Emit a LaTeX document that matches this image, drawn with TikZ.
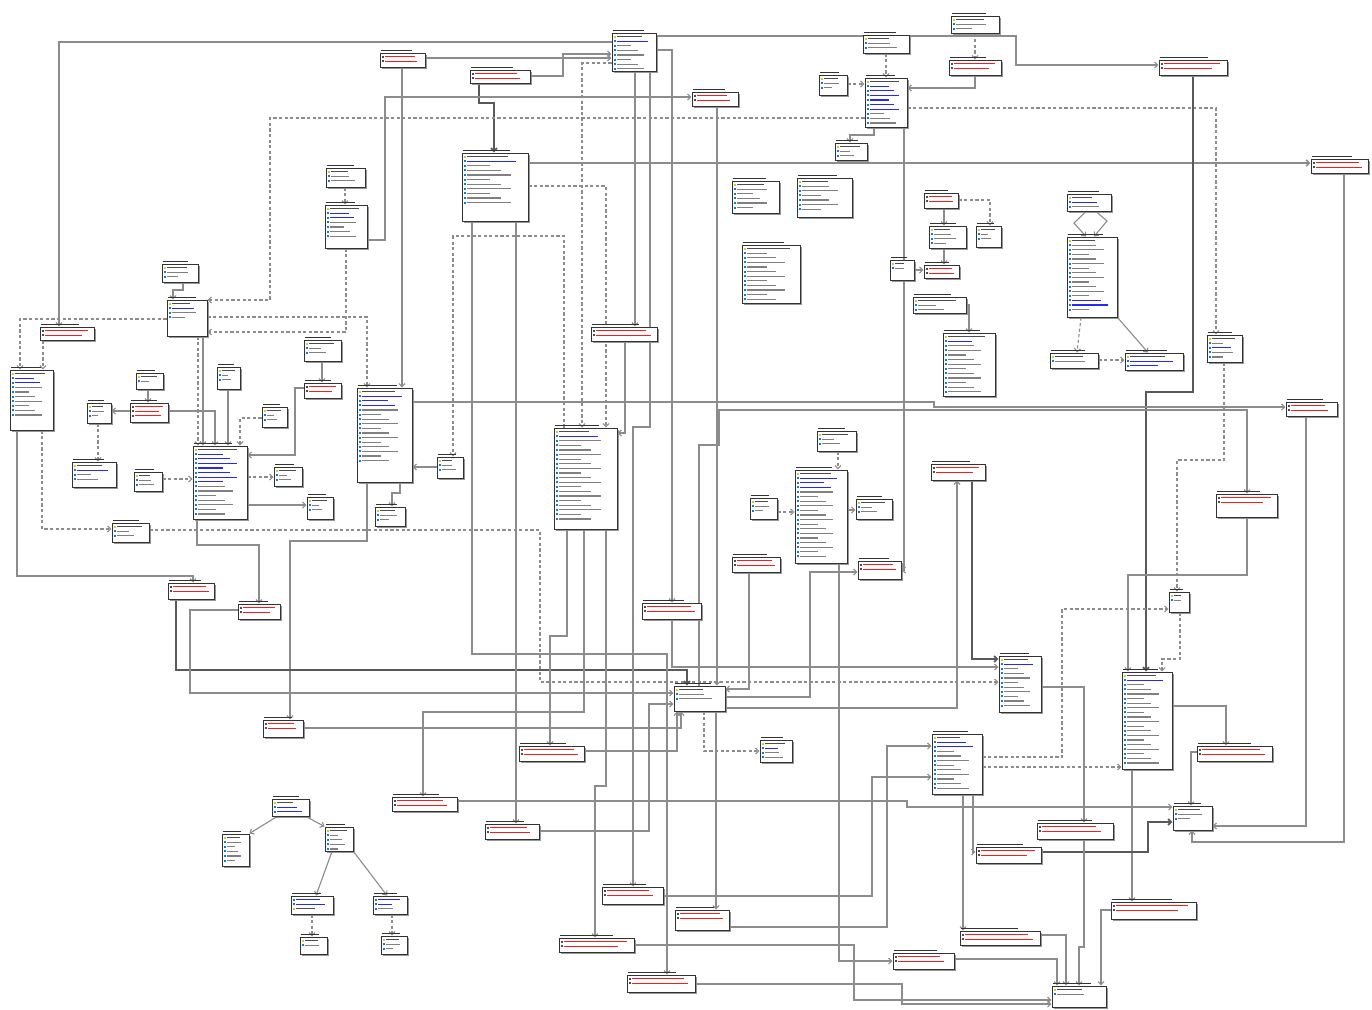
\documentclass[tikz,border=0pt]{standalone}
\usetikzlibrary{arrows.meta,fit,shadows}
\pgfdeclarelayer{bg}
\pgfdeclarelayer{lines}
\pgfsetlayers{bg,lines,main}

\colorlet{tck}{black!70}
\colorlet{tcn}{black!50}
\colorlet{tcb}{blue!85}
\colorlet{tcr}{red!90}
\colorlet{ick}{yellow!80!black}
\colorlet{icn}{cyan!60!blue}
\colorlet{icb}{cyan!60!blue}
\colorlet{icr}{black!70}
\expandafter\def\csname erlbk\endcsname{0.55}
\expandafter\def\csname erlsk\endcsname{0.15}
\expandafter\def\csname erlbn\endcsname{0.4}
\expandafter\def\csname erlsn\endcsname{0.18}
\expandafter\def\csname erlbb\endcsname{0.55}
\expandafter\def\csname erlsb\endcsname{0.15}
\expandafter\def\csname erlbr\endcsname{0.8}
\expandafter\def\csname erlsr\endcsname{0.07}

\tikzset{
  tblbox/.style={draw=black!80, line width=0.5pt, fill=white, inner sep=0pt,
    drop shadow={shadow xshift=1.1pt, shadow yshift=-1.1pt, fill=black!45, opacity=0.9}},
  tbltitle/.style={draw=black!80, line width=0.75pt},
  rel/.style={draw=black!45, line width=0.55pt, -{Straight Barb[length=1.6pt,width=3pt]}},
  relt/.style={rel, draw=black!65, line width=0.85pt},
  reln/.style={rel, dash pattern=on 1.6pt off 1.2pt},
}

% name, x1, y1, x2, y2, rows
\newcommand{\ertable}[6]{%
  \node[tblbox, fit={(#2,#3) (#4,#5)}] (#1) {};
  \draw[tbltitle] (#2+0.5,#3-2.6) -- ({#2+0.72*(#4-#2)},#3-2.6);
  \foreach \rw [count=\ri] in {#6} {
    \pgfmathsetmacro\ry{#3+4.6*\ri-1}
    \pgfmathsetmacro\rx{#2+5+(#4-#2-8)*(\csname erlb\rw\endcsname+\csname erls\rw\endcsname*mod(\ri+#2,3))}
    \fill[fill=ic\rw] (#2+1.5,\ry-1) rectangle (#2+3.5,\ry+1);
    \draw[draw=tc\rw, line width=0.6pt] (#2+5,\ry) -- (\rx,\ry);
  }%
}

\begin{document}
\begin{tikzpicture}[x=0.5pt,y=-0.5pt]
  \useasboundingbox (0,0) rectangle (1372,1009);
  \begin{pgfonlayer}{bg}
    \fill[white] (0,0) rectangle (1372,1009);
  \end{pgfonlayer}

  \ertable{t1}{612}{33}{656}{71}{k,b,n,n,n,n,n,n}
  \ertable{t2}{380}{53}{425}{67}{r,r}
  \ertable{t3}{470}{70}{530}{83}{r,r}
  \ertable{t4}{692}{92}{738}{106}{r,r}
  \ertable{t5}{863}{35}{909}{53}{k,n,n}
  \ertable{t6}{951}{16}{999}{33}{k,n,n}
  \ertable{t7}{949}{60}{1001}{75}{r,r}
  \ertable{t8}{819}{75}{847}{95}{k,n,n}
  \ertable{t9}{865}{78}{907}{127}{k,b,b,b,b,b,b,n,n,n}
  \ertable{t10}{835}{143}{867}{160}{k,n,n}
  \ertable{t11}{1159}{60}{1227}{75}{r,r}
  \ertable{t12}{1311}{159}{1368}{173}{r,r}
  \ertable{t13}{462}{153}{528}{221}{k,b,n,n,n,n,n,n,n,n,n}
  \ertable{t14}{326}{168}{365}{187}{k,n,n}
  \ertable{t15}{325}{205}{367}{248}{k,b,b,n,n,n,n}
  \ertable{t16}{732}{181}{779}{213}{k,n,n,n,n,n}
  \ertable{t17}{797}{178}{852}{217}{k,n,n,n,n,n,n}
  \ertable{t18}{742}{245}{800}{303}{k,n,n,n,n,n,n,n,n,n,n,n}
  \ertable{t19}{924}{193}{958}{208}{r,r}
  \ertable{t20}{929}{226}{966}{248}{k,n,n,n}
  \ertable{t21}{976}{226}{1001}{247}{k,n,n}
  \ertable{t22}{924}{265}{959}{278}{r,r}
  \ertable{t23}{890}{260}{914}{280}{k,n}
  \ertable{t24}{1067}{194}{1111}{211}{k,b,n}
  \ertable{t25}{1067}{237}{1117}{317}{k,n,n,n,n,n,n,n,n,n,n,n,n,b,b,n}
  \ertable{t26}{913}{297}{966}{313}{k,n,n}
  \ertable{t27}{943}{333}{995}{396}{k,b,n,n,n,n,n,n,n,n,n,n,n}
  \ertable{t28}{1050}{353}{1098}{368}{k,n}
  \ertable{t29}{1125}{353}{1183}{370}{k,b,b}
  \ertable{t30}{1207}{335}{1242}{362}{k,n,b,n,n}
  \ertable{t31}{591}{327}{657}{341}{r,r}
  \ertable{t32}{162}{264}{198}{282}{k,n,n}
  \ertable{t33}{167}{300}{207}{336}{k,b,n,n}
  \ertable{t34}{40}{327}{94}{340}{r,r}
  \ertable{t35}{10}{370}{53}{430}{k,b,b,n,n,n,n,n,n,n}
  \ertable{t36}{304}{340}{341}{361}{k,n,n}
  \ertable{t37}{304}{383}{341}{398}{r,r}
  \ertable{t38}{217}{367}{240}{389}{k,n,n}
  \ertable{t39}{136}{373}{163}{389}{k,n}
  \ertable{t40}{87}{403}{111}{423}{k,n,n}
  \ertable{t41}{130}{403}{168}{422}{r,r,r}
  \ertable{t42}{262}{407}{287}{427}{k,n,n}
  \ertable{t43}{357}{388}{412}{482}{k,b,b,b,n,n,n,n,n,n,n,n,n,n,n,n}
  \ertable{t44}{193}{446}{247}{519}{k,b,b,b,b,b,b,b,n,n,n,n,n,n,n}
  \ertable{t45}{72}{462}{116}{487}{k,b,n,n}
  \ertable{t46}{134}{472}{162}{491}{k,n,n}
  \ertable{t47}{274}{467}{302}{486}{k,n,n}
  \ertable{t48}{307}{497}{333}{519}{k,n,n}
  \ertable{t49}{112}{523}{149}{542}{k,n,n}
  \ertable{t50}{375}{507}{405}{526}{k,n,n}
  \ertable{t51}{437}{457}{463}{478}{k,n,n}
  \ertable{t52}{168}{583}{214}{599}{r,r}
  \ertable{t53}{238}{604}{280}{619}{r,r}
  \ertable{t54}{263}{720}{303}{737}{r,r}
  \ertable{t55}{554}{428}{617}{529}{k,b,n,n,n,n,n,n,n,n,n,n,n,n,n,n,n,n,n,n}
  \ertable{t56}{817}{431}{856}{451}{k,n,n}
  \ertable{t57}{795}{470}{847}{563}{k,b,b,b,n,n,n,n,n,n,n,n,n,n,n,n,n,n,n}
  \ertable{t58}{750}{498}{777}{519}{k,n,n}
  \ertable{t59}{856}{499}{892}{519}{k,n,n}
  \ertable{t60}{732}{557}{780}{572}{r,r}
  \ertable{t61}{858}{561}{901}{579}{r,r}
  \ertable{t62}{642}{603}{701}{619}{r,r}
  \ertable{t63}{674}{686}{725}{711}{k,n,n}
  \ertable{t64}{760}{740}{792}{762}{k,b,n,n}
  \ertable{t65}{519}{746}{584}{761}{r,r}
  \ertable{t66}{392}{797}{457}{811}{r,r}
  \ertable{t67}{485}{824}{539}{839}{r,r}
  \ertable{t68}{602}{887}{663}{904}{r,r}
  \ertable{t69}{675}{910}{729}{930}{r,r}
  \ertable{t70}{559}{938}{634}{952}{r,r}
  \ertable{t71}{627}{975}{695}{992}{r,r}
  \ertable{t72}{931}{464}{985}{480}{r,r}
  \ertable{t73}{1286}{402}{1337}{416}{r,r}
  \ertable{t74}{1216}{494}{1277}{517}{r,r}
  \ertable{t75}{1169}{592}{1189}{612}{k,n}
  \ertable{t76}{999}{656}{1041}{712}{k,b,n,n,n,n,n,n,n,n,n}
  \ertable{t77}{1122}{672}{1172}{769}{k,b,n,n,n,n,n,n,n,n,n,n,n,n,n,n,n,n,n,n}
  \ertable{t78}{932}{734}{982}{794}{k,b,b,n,n,n,n,n,n,n,n,n}
  \ertable{t79}{1197}{746}{1272}{761}{r,r}
  \ertable{t80}{1173}{806}{1212}{830}{k,n,n}
  \ertable{t81}{1037}{823}{1113}{839}{r,r}
  \ertable{t82}{976}{847}{1041}{863}{r,r}
  \ertable{t83}{1111}{902}{1196}{919}{r,r}
  \ertable{t84}{960}{931}{1040}{945}{r,r}
  \ertable{t85}{893}{953}{954}{969}{r,r}
  \ertable{t86}{1052}{986}{1106}{1007}{k,n}
  \ertable{t87}{272}{799}{309}{816}{k,b,b}
  \ertable{t88}{222}{834}{249}{866}{k,n,n,n,n,n}
  \ertable{t89}{325}{827}{353}{851}{k,n,n,n,n}
  \ertable{t90}{291}{896}{333}{914}{b,b,k}
  \ertable{t91}{373}{896}{407}{914}{b,b,n}
  \ertable{t92}{300}{937}{327}{954}{k,n}
  \ertable{t93}{381}{936}{407}{954}{k,n,n}

  \begin{pgfonlayer}{lines}
    \draw[rel] (t1.west |- 0,42) -| (t34.north -| 59,0);
    \draw[rel] (t2.east |- 0,58) -- (t1.west |- 0,58);
    \draw[rel] (t2.south -| 402,0) -- (t43.north -| 402,0);
    \draw[rel] (t3.east |- 0,76) -| (563,54) -- (t1.west |- 0,54);
    \draw[relt] (t3.south -| 479,0) |- (494,103) -- (t13.north -| 494,0);
    \draw[rel] (t15.east |- 0,240) -| (385,97) -- (t4.west |- 0,97);
    \draw[reln] (t9.west |- 0,118) -| (270,300) -- (t33.east |- 0,300);
    \draw[reln] (t33.east |- 0,317) -| (t43.north -| 367,0);
    \draw[reln] (t15.south -| 346,0) |- (t33.east |- 0,332);
    \draw[reln] (t14.south -| 345,0) -- (t15.north -| 345,0);
    \draw[reln] (t33.west |- 0,319) -| (t35.north -| 20,0);
    \draw[reln] (t34.south -| 43,0) -- (t35.north -| 43,0);
    \draw[rel] (t32.south -| 183,0) |- (173,290) -- (t33.north -| 173,0);
    \draw[reln] (t33.south -| 198,0) -- (t44.north -| 198,0);
    \draw[rel] (t33.south -| 203,0) -- (t44.north -| 203,0);
    \draw[rel] (t36.south -| 322,0) -- (t37.north -| 322,0);
    \draw[rel] (t37.west |- 0,388) -| (295,455) -- (t44.east |- 0,455);
    \draw[rel] (t38.south -| 228,0) -- (t44.north -| 228,0);
    \draw[reln] (t42.west |- 0,418) -| (t44.north -| 240,0);
    \draw[rel] (t39.south -| 148,0) -- (t41.north -| 148,0);
    \draw[rel] (t41.west |- 0,411) -- (t40.east |- 0,411);
    \draw[rel] (t41.east |- 0,411) -| (t44.north -| 215,0);
    \draw[reln] (t40.south -| 98,0) -- (t45.north -| 98,0);
    \draw[reln] (t46.east |- 0,479) -- (t44.west |- 0,479);
    \draw[rel] (t44.east |- 0,505) -- (t48.west |- 0,505);
    \draw[reln] (t44.east |- 0,477) -- (t47.west |- 0,477);
    \draw[rel] (t51.west |- 0,467) -- (t43.east |- 0,467);
    \draw[reln] (t55.north -| 564,0) |- (453,236) -- (t51.north -| 453,0);
    \draw[rel] (t43.south -| 400,0) |- (392,493) -- (t50.north -| 392,0);
    \draw[rel] (t43.south -| 367,0) |- (290,541) -- (t54.north -| 290,0);
    \draw[rel] (t35.south -| 17,0) |- (193,576) -- (t52.north -| 193,0);
    \draw[reln] (t35.south -| 42,0) |- (t49.west |- 0,529);
    \draw[reln] (t49.east |- 0,530) -| (540,682) -- (t76.west |- 0,682);
    \draw[rel] (t44.south -| 197,0) |- (259,545) -- (t53.north -| 259,0);
    \draw[relt] (t52.south -| 176,0) |- (687,670) -- (t63.north -| 687,0);
    \draw[rel] (t53.west |- 0,610) -| (190,693) -- (t63.west |- 0,693);
    \draw[rel] (t54.east |- 0,728) -| (t63.south -| 681,0);
    \draw[rel] (t55.south -| 584,0) |- (423,712) -- (t66.north -| 423,0);
    \draw[rel] (t55.south -| 567,0) |- (550,636) -- (t65.north -| 550,0);
    \draw[rel] (t55.south -| 606,0) |- (595,786) -- (t70.north -| 595,0);
    \draw[rel] (t13.south -| 472,0) |- (667,654) -- (t71.north -| 667,0);
    \draw[rel] (t13.south -| 516,0) -- (t67.north -| 516,0);
    \draw[rel] (t1.south -| 635,0) -- (t31.north -| 635,0);
    \draw[rel] (t1.south -| 650,0) |- (633,427) -- (t68.north -| 633,0);
    \draw[rel] (t31.south -| 625,0) |- (t55.east |- 0,433);
    \draw[reln] (t13.east |- 0,186) -| (t55.north -| 606,0);
    \draw[reln] (t1.west |- 0,63) -| (t55.north -| 582,0);
    \draw[rel, line width=0.8pt] (t13.east |- 0,163) -- (t12.west |- 0,163);
    \draw[rel] (t1.east |- 0,50) -| (t62.north -| 672,0);
    \draw[rel] (t4.south -| 717,0) -- (t63.north -| 717,0);
    \draw[rel] (t1.east |- 0,36) -| (1016,65) -- (t11.west |- 0,65);
    \draw[rel] (t7.south -| 975,0) |- (t9.east |- 0,88);
    \draw[reln] (t6.south -| 975,0) -- (t7.north -| 975,0);
    \draw[reln] (t9.east |- 0,108) -| (t30.north -| 1216,0);
    \draw[reln] (t5.south -| 886,0) -- (t9.north -| 886,0);
    \draw[reln] (t8.east |- 0,84) -- (t9.west |- 0,84);
    \draw[rel] (t9.south -| 874,0) |- (850,135) -- (t10.north -| 850,0);
    \draw[rel] (t9.south -| 904,0) |- (t61.east |- 0,570);
    \draw[relt] (t11.south -| 1193,0) |- (1146,392) -- (t77.north -| 1146,0);
    \draw[rel] (t12.south -| 1344,0) |- (1192,842) -- (t80.south -| 1192,0);
    \draw[rel] (t43.east |- 0,402) -| (934,407) -- (t73.west |- 0,407);
    \draw[rel] (t63.north -| 699,0) |- (719,445) |- (1247,410) -- (t74.north -| 1247,0);
    \draw[rel] (t73.south -| 1306,0) |- (t80.east |- 0,826);
    \draw[rel] (t74.south -| 1247,0) |- (1128,575) -- (t77.north -| 1128,0);
    \draw[reln] (t30.south -| 1224,0) |- (1177,460) -- (t75.north -| 1177,0);
    \draw[reln] (t75.south -| 1180,0) |- (1162,659) -- (t77.north -| 1162,0);
    \draw[reln] (t78.east |- 0,757) -| (1062,609) -- (t75.west |- 0,609);
    \draw[reln] (t78.east |- 0,767) -- (t77.west |- 0,767);
    \draw[relt] (t72.south -| 972,0) |- (t76.west |- 0,659);
    \draw[rel] (t63.east |- 0,708) -| (t72.south -| 957,0);
    \draw[rel] (t62.south -| 672,0) |- (t76.west |- 0,667);
    \draw[rel] (t76.east |- 0,687) -| (t81.north -| 1084,0);
    \draw[rel] (t77.east |- 0,706) -| (t79.north -| 1226,0);
    \draw[rel] (t79.west |- 0,752) -| (t80.north -| 1191,0);
    \draw[rel] (t77.south -| 1132,0) -- (t83.north -| 1132,0);
    \draw[rel] (t66.east |- 0,801) -| (907,807) -- (t80.west |- 0,807);
    \draw[relt] (t82.east |- 0,852) -| (1148,822) -- (t80.west |- 0,822);
    \draw[rel] (t78.south -| 963,0) -- (t84.north -| 963,0);
    \draw[rel] (t78.south -| 973,0) |- (t82.west |- 0,852);
    \draw[rel] (t81.south -| 1084,0) |- (1079,947) -- (t86.north -| 1079,0);
    \draw[rel] (t83.west |- 0,910) -| (t86.north -| 1101,0);
    \draw[rel] (t84.east |- 0,935) -| (t86.north -| 1066,0);
    \draw[rel] (t85.east |- 0,959) -| (t86.north -| 1057,0);
    \draw[rel] (t70.east |- 0,945) -| (854,1000) -- (t86.west |- 0,1000);
    \draw[rel] (t71.east |- 0,984) -| (902,1004) -- (t86.west |- 0,1004);
    \draw[rel] (t57.south -| 839,0) |- (t85.west |- 0,961);
    \draw[rel] (t68.east |- 0,896) -| (872,777) -- (t78.west |- 0,777);
    \draw[rel] (t69.east |- 0,927) -| (887,746) -- (t78.west |- 0,746);
    \draw[rel] (t63.east |- 0,697) -| (810,572) -- (t61.west |- 0,572);
    \draw[rel] (t60.south -| 749,0) |- (t63.east |- 0,689);
    \draw[rel] (t67.east |- 0,831) -| (649,704) -- (t63.west |- 0,704);
    \draw[rel] (t65.east |- 0,751) -| (t63.south -| 677,0);
    \draw[reln] (t63.south -| 704,0) |- (t64.west |- 0,751);
    \draw[rel] (t63.south -| 716,0) -- (t69.north -| 716,0);
    \draw[reln] (t56.south -| 838,0) -- (t57.north -| 838,0);
    \draw[reln] (t58.east |- 0,512) -- (t57.west |- 0,512);
    \draw[rel] (t57.east |- 0,510) -- (t59.west |- 0,510);
    \draw[reln] (t19.east |- 0,200) -| (t21.north -| 990,0);
    \draw[rel] (t19.south -| 944,0) -- (t20.north -| 944,0);
    \draw[rel] (t20.south -| 944,0) -- (t22.north -| 944,0);
    \draw[rel] (t23.east |- 0,270) -- (t22.west |- 0,270);
    \draw[rel] (t26.east |- 0,305) -| (t27.north -| 969,0);
    \draw[rel] (t24.south -| 1086,0) -- (1074,223) -- (t25.north -| 1086,0);
    \draw[rel] (t24.south -| 1096,0) -- (1107,221) -- (t25.north -| 1094,0);
    \draw[reln] (t25.south -| 1081,0) -- (t28.north -| 1077,0);
    \draw[rel] (t25.south east) -- (t29.north -| 1148,0);
    \draw[reln] (t28.east |- 0,360) -- (t29.west |- 0,360);
    \draw[rel] (t87.south -| 277,0) -- (t88.north east);
    \draw[rel] (t87.south -| 306,0) -- (t89.north west);
    \draw[rel] (t89.south -| 332,0) -- (t90.north -| 316,0);
    \draw[rel] (t89.south east) -- (t91.north -| 387,0);
    \draw[reln] (t90.south -| 312,0) -- (t92.north -| 312,0);
    \draw[reln] (t91.south -| 392,0) -- (t93.north -| 392,0);
  \end{pgfonlayer}
\end{tikzpicture}
\end{document}
